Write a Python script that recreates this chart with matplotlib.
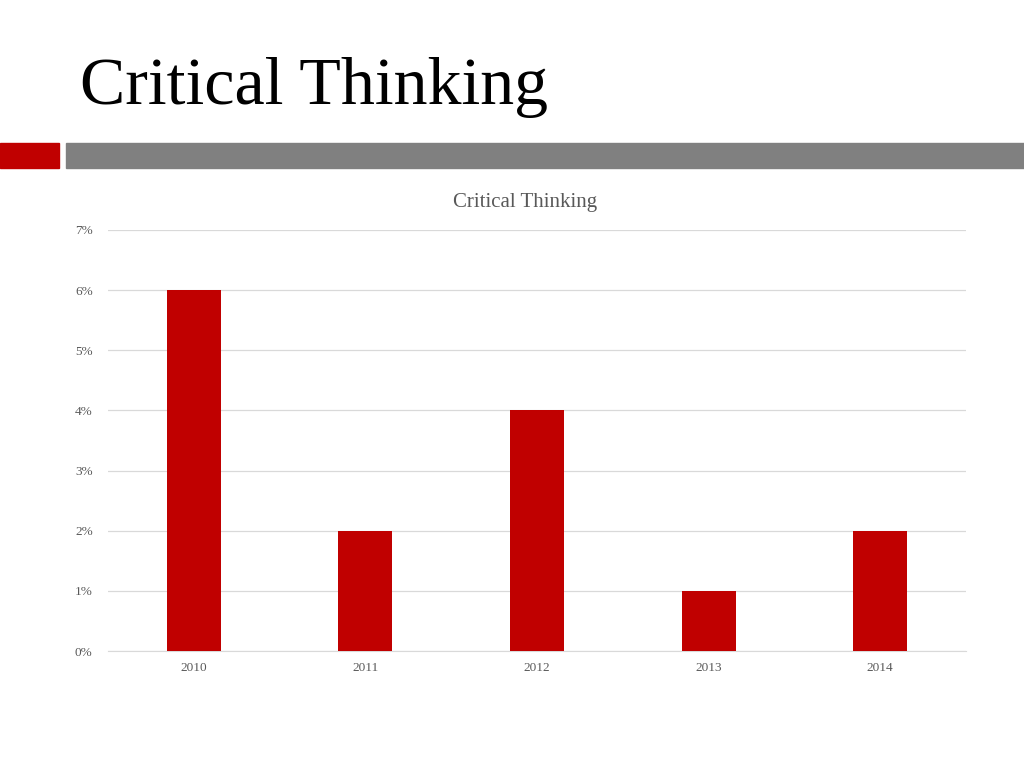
import matplotlib
matplotlib.use("Agg")
from matplotlib import pyplot as plt
from matplotlib.patches import Rectangle
from matplotlib.ticker import FuncFormatter

years = ["2010", "2011", "2012", "2013", "2014"]
values = [6, 2, 4, 1, 2]

red = "#C00000"
gray_text = "#595959"

plt.rcParams['font.family'] = ['Liberation Serif', 'DejaVu Serif']

fig = plt.figure(figsize=(10.24, 7.68), dpi=100)

# slide title and header bars
fig.text(80/1024, 1-104/768, "Critical Thinking", fontsize=49, color="black", va="baseline", ha="left")
fig.patches.append(Rectangle((0, 1-168/768), 59/1024, 25/768, transform=fig.transFigure, color=red, zorder=0))
fig.patches.append(Rectangle((66/1024, 1-168/768), 958/1024, 25/768, transform=fig.transFigure, color="#808080", zorder=0))

# chart title (sits a bit left of axes centre in the original)
fig.text(525/1024, 1-207/768, "Critical Thinking", fontsize=15, color=gray_text, ha="center", va="baseline")

ax = fig.add_axes([108/1024, 1-651/768, 858/1024, 421/768])
ax.bar(range(len(years)), values, width=0.315, color=red, zorder=3)

ax.set_xlim(-0.5, len(years)-0.5)
ax.set_ylim(0, 7)
ax.set_yticks(range(0, 8))
ax.yaxis.set_major_formatter(FuncFormatter(lambda v, p: "{:d}%".format(int(v))))
ax.set_xticks(range(len(years)))
ax.set_xticklabels(years)

ax.grid(axis="y", color="#d9d9d9", linewidth=0.9, zorder=0)
for s in ["top", "right", "left"]:
    ax.spines[s].set_visible(False)
ax.spines["bottom"].set_color("#d9d9d9")
ax.tick_params(axis="both", length=0, colors=gray_text, labelsize=9.5)
ax.tick_params(axis="y", pad=11)
ax.tick_params(axis="x", pad=8)

plt.savefig("out.png", dpi=100)
plt.close()
